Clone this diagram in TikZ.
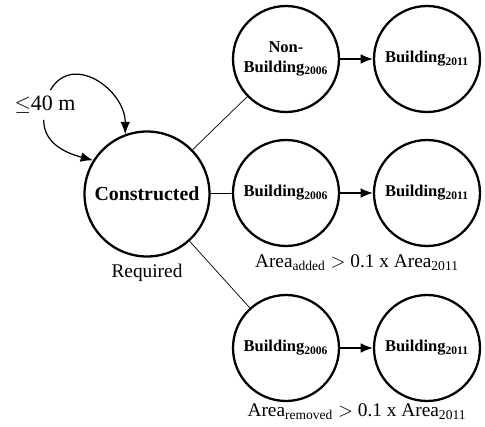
\documentclass[tikz,border=0pt]{standalone}
\usepackage{fontspec}
\setmainfont{Liberation Serif}
\usetikzlibrary{arrows.meta}
\usetikzlibrary{positioning}

\begin{document}
\begin{tikzpicture}[x=0.02cm,y=-0.02cm,
    >={Latex[length=7pt,width=5.5pt]},
    state/.style={draw,circle,line width=1.3pt,minimum size=2.12cm,inner sep=0pt,
      align=center,font=\fontsize{9.4}{11}\selectfont\bfseries},
    big/.style={minimum size=2.5cm,font=\fontsize{11.3}{13}\selectfont\bfseries},
    link/.style={line width=0.4pt},
    trans/.style={->,line width=0.7pt},
    note/.style={font=\fontsize{11}{13}\selectfont}]

    \useasboundingbox (0,0) rectangle (485,427);

    \node[state,big] (C) at (147,194) {Constructed};
    \node[note,below=0pt of C] (req) {Required};

    \begin{scope}[every node/.append style={state}]
      \node (NB)   at (286,59)  {Non-\\Building\textsubscript{2006}};
      \node (B11n) at (427,59)  {Building\textsubscript{2011}};
      \node (B06a) at (286,193) {Building\textsubscript{2006}};
      \node (B11a) at (427,193) {Building\textsubscript{2011}};
      \node (B06r) at (286,348) {Building\textsubscript{2006}};
      \node (B11r) at (427,348) {Building\textsubscript{2011}};
    \end{scope}

    \node[note] (added)   at (357,263) {Area\textsubscript{added} $>$ 0.1 x Area\textsubscript{2011}};
    \node[note] (removed) at (357,412) {Area\textsubscript{removed} $>$ 0.1 x Area\textsubscript{2011}};

    \draw[link] (C) -- (NB);
    \draw[link] (C) -- (B06a);
    \draw[link] (C) -- (B06r);

    \draw[trans] (NB) -- (B11n);
    \draw[trans] (B06a) -- (B11a);
    \draw[trans] (B06r) -- (B11r);

    % distance loop split by its label
    \node[font=\fontsize{12.5}{14}\selectfont] (lim) at (45,105) {$\leq$40 m};
    \draw[trans] (lim.70) to[out=60,in=90,looseness=1.3] (C.110);
    \draw[trans] (lim.265) to[out=-90,in=165] (C.148);
  \end{tikzpicture}
\end{document}
